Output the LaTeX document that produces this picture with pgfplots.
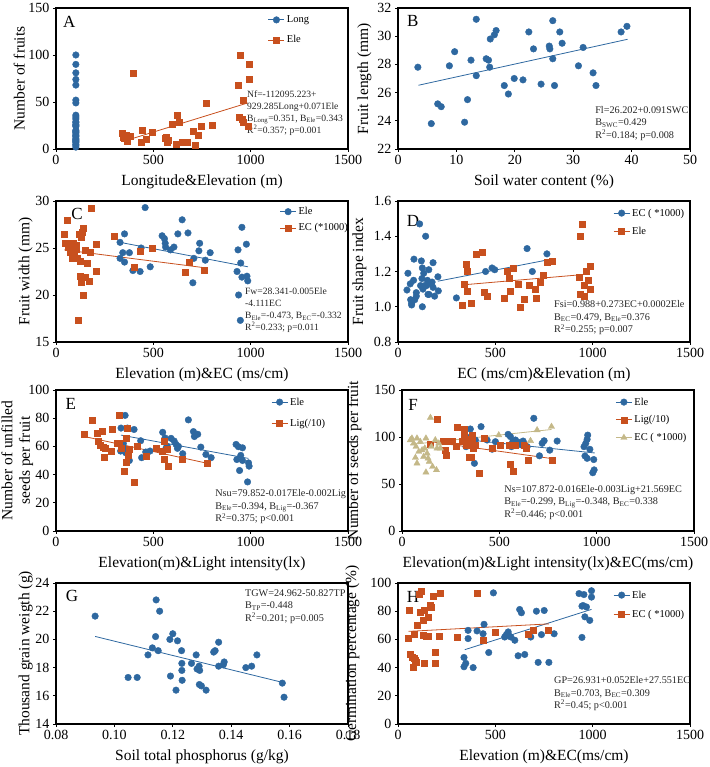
\documentclass[border=0pt]{standalone}
\usepackage{pgfplots}
\pgfplotsset{compat=1.18}
\usepackage{fontspec}
\setmainfont{Liberation Serif}
\definecolor{cblue}{RGB}{46,104,160}
\definecolor{corange}{RGB}{200,80,30}
\definecolor{ctan}{RGB}{196,184,136}
\pgfplotsset{
  panel/.style={width=292pt,height=141pt,scale only axis,anchor=south west,clip=false,
    axis line style={line width=1.4pt},
    tick align=outside, major tick length=3pt, tick pos=left,
    tick style={line width=0.8pt,black},
    ticklabel style={font=\fontsize{14}{14}\selectfont},
    label style={font=\fontsize{15.5}{17.5}\selectfont},
    xlabel style={yshift=-3pt},
    /pgf/number format/assume math mode=true,
    /pgf/number format/1000 sep={},
    legend cell align=left,
    legend style={draw=none,fill=none,anchor=north west,font=\fontsize{10.5}{11}\selectfont},
    legend image code/.code={\draw[##1,line width=0.9pt] (0pt,0pt) -- (16pt,0pt); \draw[##1,line width=0.4pt] plot coordinates {(8pt,0pt)};},
  },
  yl/.style={ylabel style={at={(axis description cs:#1,0.5)},anchor=south}},
  bdot/.style={only marks,mark=*,mark size=3.3pt,color=cblue},
  osq/.style={only marks,mark=square*,mark size=3pt,color=corange},
  ttri/.style={only marks,mark=triangle*,mark size=3.6pt,color=ctan},
  bline/.style={cblue,line width=0.8pt,forget plot},
  oline/.style={corange,line width=0.8pt,forget plot},
  tline/.style={ctan,line width=0.8pt,forget plot},
}
\tikzset{
  ann/.style={anchor=north west,align=left,inner sep=0pt,font=\fontsize{10.2}{12.5}\selectfont,text=black!85},
  anns/.style={ann,font=\fontsize{9.6}{12}\selectfont},
  letter/.style={font=\fontsize{17}{17}\selectfont},
}
\begin{document}
\begin{tikzpicture}
\path[use as bounding box] (0pt,0pt) rectangle (709pt,767pt);
% ---------------- A
\begin{axis}[panel, at={(56pt,618pt)}, xmin=0,xmax=1500,ymin=0,ymax=150,
  xtick={0,500,1000,1500}, ytick={0,50,100,150},
  xlabel={Longitude\&Elevation (m)}, ylabel={Number of fruits}, yl=-0.095,
  legend style={at={(0.715,0.975)},row sep=7.5pt}]
\addplot[bdot] coordinates {(102,100)(102,90)(102,81)(102,74)(102,68)(102,52)(102,49)(102,36)(102,34)(102,32)(102,29)(102,28)(102,26)(102,25)(102,24)(102,20)(102,19)(102,18)(102,17)(102,15)(102,14)(102,13)(102,11)(102,10)(102,9)(102,8)(102,7)(102,5)(102,4)(102,2)};
\addlegendentry{Long}
\addplot[osq] coordinates {(340,17)(345,13)(352,11)(360,15)(365,8)(380,14)(399,81)(445,20)(440,7)(465,10)(493,18)(560,11)(568,13)(572,7)(578,9)(596,26)(622,36)(616,5)(634,28)(650,7)(676,7)(707,19)(714,4)(733,15)(748,24)(774,49)(800,25)(935,68)(945,100)(943,34)(954,32)(962,29)(962,52)(993,90)(993,74)(985,24)};
\addlegendentry{Ele}
\addplot[oline] coordinates {(375,10)(985,49)};
\node[letter] at (rel axis cs:0.045,0.90) {A};
\node[anns] at (rel axis cs:0.654,0.415) {Nf=-112095.223+\\929.285Long+0.071Ele\\B\textsubscript{Long}=0.351, B\textsubscript{Ele}=0.343\\R\textsuperscript{2}=0.357; p=0.001};
\end{axis}
% ---------------- B
\begin{axis}[panel, at={(398pt,618pt)}, xmin=0,xmax=50,ymin=22,ymax=32,
  xtick={0,10,20,30,40,50}, ytick={22,24,26,28,30,32},
  xlabel={Soil water content (\%)}, ylabel={Fruit length (mm)}, yl=-0.079]
\addplot[bdot] coordinates {(3.4,27.8)(5.7,23.8)(6.8,25.2)(7.4,25.0)(8.8,27.9)(9.7,28.9)(11.4,23.9)(11.9,25.5)(12.5,28.3)(13.4,31.2)(13.4,27.2)(15.1,28.4)(15.5,28.3)(15.7,27.8)(15.8,29.8)(16.5,30.1)(16.8,30.4)(18.2,26.5)(18.9,25.9)(19.9,27.0)(21.4,26.9)(22.4,30.3)(23.2,29.1)(24.5,26.6)(25.9,29.3)(26.0,29.1)(26.5,31.1)(26.5,28.4)(26.8,26.5)(27.7,30.3)(28.1,29.5)(30.9,27.9)(31.7,29.2)(33.4,27.4)(33.9,26.5)(38.2,30.3)(39.2,30.7)};
\addplot[bline] coordinates {(3.5,26.52)(39.3,29.78)};
\node[letter] at (rel axis cs:0.051,0.905) {B};
\node[ann] at (rel axis cs:0.675,0.305) {Fl=26.202+0.091SWC\\B\textsubscript{SWC}=0.429\\R\textsuperscript{2}=0.184; p=0.008};
\end{axis}
% ---------------- C
\begin{axis}[panel, at={(56pt,425pt)}, xmin=0,xmax=1500,ymin=15,ymax=30,
  xtick={0,500,1000,1500}, ytick={15,20,25,30},
  xlabel={Elevation (m)\&EC (ms/cm)}, ylabel={Fruit width (mm)}, yl=-0.068,
  legend style={at={(0.755,0.985)},row sep=3.5pt}]
\addplot[bdot] coordinates {(329,25.6)(329,23.9)(352,26.5)(343,24.5)(352,23.5)(377,24.5)(395,22.6)(432,22.5)(437,25.0)(458,29.3)(484,23.0)(545,26.3)(557,26.0)(561,25.5)(563,25.1)(588,24.8)(606,25.1)(626,26.5)(648,28.0)(678,26.6)(703,21.3)(708,23.9)(738,25.5)(734,24.7)(767,23.7)(792,24.5)(930,22.5)(935,24.8)(949,23.4)(955,27.2)(955,21.9)(938,20.0)(947,17.3)(978,25.4)(981,22.0)(985,21.5)};
\addlegendentry{Ele}
\addplot[osq] coordinates {(43,26.5)(48,25.5)(60,28.0)(63,25.1)(70,25.5)(74,24.6)(77,24.9)(82,23.9)(86,25.5)(91,24.6)(94,25.1)(103,25.3)(106,24.9)(111,23.9)(115,17.3)(120,26.5)(123,22.0)(123,23.6)(129,26.2)(132,21.4)(134,26.7)(141,20.0)(142,27.1)(151,21.9)(151,24.8)(158,23.4)(172,21.5)(175,24.5)(180,29.2)(206,22.5)(206,25.4)(297,26.3)(400,23.0)(432,24.7)(494,25.0)(662,22.4)(686,23.5)(763,22.6)};
\addlegendentry{EC (*1000)}
\addplot[bline] coordinates {(329,25.6)(986,23.0)};
\addplot[oline] coordinates {(43,24.8)(763,22.9)};
\node[letter] at (rel axis cs:0.072,0.905) {C};
\node[anns] at (rel axis cs:0.647,0.385) {Fw=28.341-0.005Ele\\-4.111EC\\B\textsubscript{Ele}=-0.473, B\textsubscript{EC}=-0.332\\R\textsuperscript{2}=0.233; p=0.011};
\end{axis}
% ---------------- D
\begin{axis}[panel, at={(398pt,425pt)}, xmin=0,xmax=1500,ymin=0.8,ymax=1.6,
  xtick={0,500,1000,1500}, ytick={0.8,1.0,1.2,1.4,1.6},
  yticklabel style={/pgf/number format/.cd,fixed,fixed zerofill,precision=1},
  xlabel={EC (ms/cm)\&Elevation (m)}, ylabel={Fruit shape index}, yl=-0.096,
  legend style={at={(0.726,0.975)},row sep=5.5pt}]
\addplot[bdot] coordinates {(46,1.095)(51,1.19)(63,1.13)(65,1.04)(70,1.02)(70,1.01)(80,1.15)(82,1.27)(86,1.04)(94,1.08)(94,1.06)(111,1.47)(116,1.12)(120,1.26)(123,1.16)(125,1.22)(128,1.10)(132,1.19)(125,1.00)(137,1.12)(142,1.40)(146,1.12)(151,1.15)(154,1.07)(158,1.21)(159,1.07)(171,1.13)(175,1.14)(180,1.11)(180,1.25)(188,1.06)(205,1.17)(207,1.09)(300,1.05)(450,1.20)(483,1.22)(497,1.21)(663,1.33)(690,1.20)(765,1.30)};
\addlegendentry{EC ( *1000)}
\addplot[osq] coordinates {(330,1.01)(342,1.13)(351,1.24)(354,1.20)(358,1.09)(375,1.02)(402,1.30)(433,1.31)(442,1.08)(459,1.06)(548,1.05)(560,1.20)(570,1.16)(574,1.09)(591,1.22)(616,1.13)(628,1.00)(647,1.04)(676,1.12)(707,1.10)(710,1.05)(728,1.14)(745,1.18)(767,1.25)(791,1.26)(933,1.17)(938,1.40)(945,1.47)(938,1.07)(955,1.06)(959,1.12)(967,1.20)(977,1.15)(985,1.10)(985,1.23)};
\addlegendentry{Ele}
\addplot[bline] coordinates {(205,1.145)(765,1.265)};
\addplot[oline] coordinates {(342,1.125)(976,1.185)};
\node[letter] at (rel axis cs:0.051,0.86) {D};
\node[ann] at (rel axis cs:0.534,0.295) {Fsi=0.988+0.273EC+0.0002Ele\\B\textsubscript{EC}=0.479, B\textsubscript{Ele}=0.376\\R\textsuperscript{2}=0.255; p=0.007};
\end{axis}
% ---------------- E
\begin{axis}[panel, at={(56pt,236pt)}, xmin=0,xmax=1500,ymin=0,ymax=100,
  xtick={0,500,1000,1500}, ytick={0,20,40,60,80,100},
  xlabel={Elevation(m)\&Light intensity(lx)}, ylabel={Number of unfilled\\seeds per fruit}, yl=-0.066,
  ylabel style={align=center},
  legend style={at={(0.726,0.975)},row sep=8.5pt}]
\addplot[bdot] coordinates {(355,82)(334,73)(367,73)(332,56.7)(346,62)(355,58)(358,55.5)(377,50)(401,72)(435,64)(440,52)(461,56)(483,56.7)(548,70)(560,66)(566,59)(572,60)(591,65.7)(607,63.8)(617,61.4)(624,58.6)(629,60)(651,54.8)(680,78.8)(706,70.5)(711,67)(728,68.6)(744,59.5)(770,54.3)(797,52)(925,61.4)(937,59.8)(929,50.7)(943,42.9)(949,53.6)(958,59)(958,50)(984,34.8)(989,48.3)(992,46)};
\addlegendentry{Ele}
\addplot[osq] coordinates {(146,68.6)(185,78.8)(212,69.3)(217,63.8)(235,70.5)(226,61)(243,59.5)(247,52.4)(255,59)(281,56.7)(290,72)(312,62)(324,82.4)(334,59)(324,62)(350,42.4)(360,66)(363,49)(367,73)(372,54)(377,58)(403,34.8)(418,60)(461,53)(514,59)(548,56.7)(555,63.8)(557,50.7)(572,57.9)(578,46)(650,50.7)(778,47.9)};
\addlegendentry{Lig(/10)}
\addplot[bline] coordinates {(334,68)(988,51.5)};
\addplot[oline] coordinates {(146,67)(778,48)};
\node[letter] at (rel axis cs:0.051,0.90) {E};
\node[ann] at (rel axis cs:0.545,0.295) {Nsu=79.852-0.017Ele-0.002Lig\\B\textsubscript{Ele}=-0.394, B\textsubscript{Lig}=-0.367\\R\textsuperscript{2}=0.375; p<0.001};
\end{axis}
% ---------------- F
\begin{axis}[panel, at={(402pt,236pt)}, xmin=0,xmax=1500,ymin=0,ymax=150,
  xtick={0,500,1000,1500}, ytick={0,50,100,150},
  xlabel={Elevation(m)\&Light intensity(lx)\&EC(ms/cm)}, ylabel={Number of seeds per fruit}, yl=-0.127,
  legend style={at={(0.72,0.975)},row sep=5pt}]
\addplot[bdot] coordinates {(329,89.7)(339,99.3)(351,108.5)(357,96.8)(372,72)(377,96.8)(406,111)(437,96.8)(463,87)(480,95)(545,102.8)(557,100.4)(562,89.7)(569,95)(583,96.8)(600,94.3)(614,91.5)(622,95.7)(631,92.2)(643,89.7)(677,119.9)(706,80)(720,93.3)(730,96)(759,86)(797,95.7)(935,89.7)(944,93.3)(951,97.5)(954,102)(940,79.8)(951,77.3)(965,86.9)(980,62)(987,65)(985,76)};
\addlegendentry{Ele}
\addplot[osq] coordinates {(146,92)(183,119)(211,95.4)(223,85.5)(228,80.9)(236,95.4)(248,95)(260,95.4)(283,110)(279,90.4)(308,95)(320,108)(322,102)(331,91.1)(339,98)(351,95)(343,78.4)(357,78.4)(360,96)(363,102)(365,88)(374,91.1)(399,62)(420,99)(463,88)(506,91)(549,91.5)(557,71.3)(572,64)(583,91.5)(626,91.5)(638,88)(648,75.5)(771,75.5)};
\addlegendentry{Lig(/10)}
\addplot[ttri] coordinates {(43,96.8)(51,98.6)(60,93.3)(77,98.6)(72,89.7)(86,84.4)(94,95)(103,86)(111,79)(117,88)(123,98.6)(129,82.6)(134,77.3)(140,73.8)(146,120.6)(151,89.7)(157,68.4)(177,64.9)(171,96.8)(189,93.3)(123,62.4)(77,72)(69,78)(180,88)(197,88)(497,102)(660,96)(694,107.4)(768,111)};
\addlegendentry{EC ( *1000)}
\addplot[bline] coordinates {(338,97)(990,83)};
\addplot[oline] coordinates {(146,95)(771,77)};
\addplot[tline] coordinates {(43,92)(768,108)};
\node[letter] at (rel axis cs:0.038,0.895) {F};
\node[ann] at (rel axis cs:0.35,0.325) {Ns=107.872-0.016Ele-0.003Lig+21.569EC\\B\textsubscript{Ele}=-0.299, B\textsubscript{Lig}=-0.348, B\textsubscript{EC}=0.338\\R\textsuperscript{2}=0.446; p<0.001};
\end{axis}
% ---------------- G
\begin{axis}[panel, at={(56pt,43pt)}, xmin=0.08,xmax=0.18,ymin=14,ymax=24,
  xtick={0.08,0.10,0.12,0.14,0.16,0.18}, ytick={14,16,18,20,22,24},
  xticklabel style={/pgf/number format/.cd,fixed,fixed zerofill,precision=2},
  xlabel={Soil total phosphorus (g/kg)}, ylabel={Thousand grain weigth (g)}, yl=-0.068]
\addplot[bdot] coordinates {(0.0934,21.65)(0.1047,17.3)(0.1078,17.3)(0.1115,18.9)(0.113,19.4)(0.1141,20.2)(0.1143,22.8)(0.115,19.2)(0.1155,22.0)(0.119,20.0)(0.1192,17.4)(0.120,20.4)(0.1211,16.4)(0.1216,19.9)(0.123,19.2)(0.1231,18.3)(0.1231,17.8)(0.1232,17.1)(0.1264,18.3)(0.128,18.9)(0.1283,17.9)(0.129,18.1)(0.1291,16.8)(0.1292,17.8)(0.1298,16.7)(0.1314,16.4)(0.134,19.1)(0.1345,19.2)(0.1357,19.8)(0.1357,18.1)(0.1373,18.2)(0.1376,18.4)(0.145,18.0)(0.147,18.1)(0.1488,18.9)(0.1575,16.9)(0.1581,15.9)};
\addplot[bline] coordinates {(0.0934,20.21)(0.1576,16.95)};
\node[letter] at (rel axis cs:0.055,0.905) {G};
\node[ann] at (rel axis cs:0.647,0.955) {TGW=24.962-50.827TP\\B\textsubscript{TP}=-0.448\\R\textsuperscript{2}=0.201; p=0.005};
\end{axis}
% ---------------- H
\begin{axis}[panel, at={(398pt,43pt)}, xmin=0,xmax=1500,ymin=0,ymax=100,
  xtick={0,500,1000,1500}, ytick={0,20,40,60,80,100},
  xlabel={Elevation (m)\&EC(ms/cm)}, ylabel={Germination percentage (\%)}, yl=-0.12,
  legend style={at={(0.726,0.975)},row sep=6.5pt}]
\addplot[bdot] coordinates {(339,47.2)(339,40.6)(348,43)(360,66.4)(360,60.6)(386,40)(406,66)(442,70.7)(437,64)(466,50.7)(490,93)(548,61.7)(557,63.4)(566,65.3)(571,62.4)(580,61.7)(600,59.4)(617,48.4)(625,81.2)(634,78.9)(651,49.3)(682,61.7)(711,80)(720,43.7)(737,63.4)(751,80.5)(775,43.7)(802,64)(930,92.5)(955,91.8)(945,83.6)(951,84)(968,83)(960,76)(985,73.5)(945,61.4)(994,94.5)(994,90)};
\addlegendentry{Ele}
\addplot[osq] coordinates {(55,80.5)(51,60.6)(65,49.3)(72,47.7)(77,40.6)(82,46.5)(82,64)(89,45.3)(94,43.7)(99,70.4)(111,92.2)(120,93.9)(116,79.6)(128,73.7)(128,63)(134,80.5)(137,43)(146,62.4)(154,75.8)(154,62.4)(163,84)(171,82.9)(180,90.6)(189,50.7)(189,43)(214,62.4)(218,93)(305,61.7)(408,93)(437,59.4)(500,64.8)(668,63.4)(694,66.4)(774,66.4)};
\addlegendentry{EC ( *1000)}
\addplot[bline] coordinates {(343,52.7)(994,81.3)};
\addplot[oline] coordinates {(55,65.7)(775,71)};
\node[letter] at (rel axis cs:0.051,0.90) {H};
\node[ann] at (rel axis cs:0.534,0.338) {GP=26.931+0.052Ele+27.551EC\\B\textsubscript{Ele}=0.703, B\textsubscript{EC}=0.309\\R\textsuperscript{2}=0.45; p<0.001};
\end{axis}
\end{tikzpicture}
\end{document}
